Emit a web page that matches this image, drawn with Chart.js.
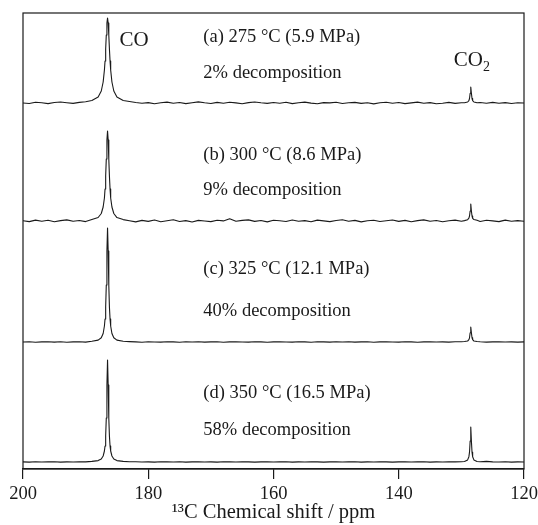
<!DOCTYPE html>
<html>
<head>
<meta charset="utf-8">
<script src="https://cdn.jsdelivr.net/npm/chart.js@4"></script>
<style>
    html, body { margin: 0; padding: 0; background: #fff; }
    canvas { display: block; }
</style>
</head>
<body>
<canvas id="nmr-chart" width="538" height="525"></canvas>
<script>
// ── Data ─────────────────────────────────────────────────

// chemical shift grid, ppm
const shiftPpm = [
    200, 199, 198, 197, 196, 195, 194, 193, 192, 191, 190, 189, 188,
    187.5, 187.2, 187.0, 186.9, 186.8, 186.7, 186.6, 186.5, 186.4, 186.3, 186.2, 186.1, 186.0, 185.8, 185.5, 185.0,
    184, 183, 182, 181, 180, 179, 178, 177, 176, 175, 174, 173, 172, 171, 170, 169, 168, 167, 166, 165,
    164, 163, 162, 161, 160, 159, 158, 157, 156, 155, 154, 153, 152, 151, 150, 149, 148, 147, 146, 145,
    144, 143, 142, 141, 140, 139, 138, 137, 136, 135, 134, 133, 132, 131, 130,
    129.5, 129.0, 128.8, 128.7, 128.6, 128.5, 128.4, 128.3, 128.2, 128.0, 127.5,
    127, 126, 125, 124, 123, 122, 121, 120
];

// (a) 275 °C
const intensityA = [
    0, -0.5, 0.8, 0.2, -0.6, 0.5, 1.0, 0.3, -0.4, 0.6, 1.2, 2.5, 6,
    12, 21, 33, 42, 54, 68, 80, 85, 80, 68, 54, 42, 33, 21, 12, 6,
    2.5, 1.5, 0.5, -0.3, 0.4, -0.8, 0.2, 0.9, -0.2, 0.5, -0.6, 0.3, 1.1, 0.2, -0.5, 0.6, -0.3, 0.8, 0.1, -0.7,
    0.4, 1.0, 0.2, -0.4, 0.5, -0.2, 0.7, -0.6, 0.3, 0.9, -0.1, -0.8, 0.4, 0.1, 0.8, -0.5, 0.2, 0.6, -0.4, 0.3,
    -0.9, 0.2, 0.7, -0.3, 0.5, -0.6, 0.1, 0.9, -0.2, 0.4, -0.7, -0.2, 0.6, -0.4, 0.3,
    0.2, 1, 2.4, 4.5, 9.8, 16, 9.8, 4.5, 2.4, 1, 0.2,
    0.5, -0.3, 0.6, -0.2, 0.4, -0.5, 0.2, 0
];

// (b) 300 °C
const intensityB = [
    0.3, -0.6, 0.9, -0.2, 0.7, -0.8, 0.4, 1.1, -0.3, 0.5, -0.6, 1.5, 3.5,
    7.5, 14, 23, 32, 45, 62, 81, 90, 81, 62, 45, 32, 23, 14, 7.5, 3.4,
    1.4, 0.2, -0.9, 0.6, -0.4, 1.0, -0.7, 0.3, 1.2, -0.5, 0.4, -1.0, 0.6, 0.0, -0.6, 0.8, 0.1, 2.2, -0.3, 0.6,
    1.1, -0.4, 0.5, -0.9, 0.7, 0.2, -0.5, 1.0, -0.2, 0.4, -0.8, 0.9, 0.1, -0.6, 0.5, 1.2, -0.3, 0.6, -0.9, 0.3,
    0.8, -0.5, 0.2, 1.0, -0.4, 0.6, -0.7, 0.4, 1.1, -0.2, 0.5, -0.8, 0.3, 0.9, -0.3,
    0.4, 1.3, 2.8, 5, 10, 17, 10, 5, 2.6, 1.5, 0.8,
    -0.5, 0.7, 0.1, -0.6, 0.9, -0.2, 0.4, -0.3
];

// (c) 325 °C
const intensityC = [
    0, 0.2, -0.2, 0.1, 0.3, -0.1, 0.2, -0.3, 0.1, 0.2, -0.1, 0.7, 1.9,
    4.3, 8.5, 16, 23, 35, 57, 91, 114, 91, 57, 35, 23, 16, 8.5, 4.3, 1.9,
    0.7, 0.4, 0.1, -0.2, 0.2, 0, -0.1, 0.3, 0.1, -0.2, 0.2, 0, 0.3, -0.1, 0.1, 0.2, -0.2, 0.1, 0.3, 0,
    -0.1, 0.2, 0.1, -0.2, 0.1, 0.3, 0, -0.1, 0.2, 0.1, -0.2, 0.2, 0.1, -0.1, 0.2, 0, 0.3, -0.1, 0.1, 0.2,
    -0.2, 0.1, 0.2, 0, -0.1, 0.2, 0.1, -0.2, 0.1, 0.3, 0, 0.1, -0.1, 0.2, 0.3,
    0.5, 1, 2.3, 4.2, 9.2, 15, 9.2, 4.2, 2.3, 1, 0.5,
    0.2, -0.1, 0.1, 0.2, 0, 0.1, -0.1, 0.1
];

// (d) 350 °C
const intensityD = [
    0.1, -0.1, 0.2, 0, 0.1, 0.2, -0.1, 0.1, 0, 0.2, 0.1, 0.6, 1.4,
    3, 6, 11, 16, 26, 44, 77, 102, 77, 44, 26, 16, 11, 6, 3, 1.4,
    0.6, 0.3, 0.2, 0, 0.1, -0.1, 0.2, 0.1, 0, 0.2, -0.1, 0.1, 0.2, 0, 0.1, -0.1, 0.2, 0.1, 0, 0.2,
    0.1, -0.1, 0.1, 0.2, 0, 0.1, 0.2, -0.1, 0.1, 0, 0.2, 0.1, -0.1, 0.1, 0.2, 0, 0.1, 0.2, -0.1, 0.1,
    0, 0.2, 0.1, -0.1, 0.1, 0.2, 0, 0.1, 0.2, -0.1, 0.1, 0, 0.2, 0.1, 0.2,
    0.5, 2.1, 5.3, 9.8, 21, 35, 21, 9.8, 5.3, 2.1, 0.5,
    0.2, 0.6, 0.1, 0, 0.2, -0.1, 0.1, 0
];

const xTicks = [200, 180, 160, 140, 120];

const conditionLabels = ['(a) 275 °C (5.9 MPa)', '(b) 300 °C (8.6 MPa)', '(c) 325 °C (12.1 MPa)', '(d) 350 °C (16.5 MPa)'];
const decompLabels = ['2% decomposition', '9% decomposition', '40% decomposition', '58% decomposition'];

// ── Layout ──────────────────────────

// vertical stacking of the traces (y units = px above the axis)
const stackOffsets = [366, 248, 127, 7];
const conditionY = [432, 314, 200, 76];
const decompY = [396, 279, 158, 39];
const labelPpm = 171.2;

const SERIF = '"Liberation Serif", "DejaVu Serif", serif';
const INK = '#1a1a1a';

function toPoints(values, offset) {
    return shiftPpm.map((x, i) => ({ x: x, y: values[i] + offset }));
}

const spectra = [intensityA, intensityB, intensityC, intensityD];

// frame + text annotations
const annotate = {
    id: 'annotate',
    afterDraw(chart) {
        const { ctx, chartArea: a, scales } = chart;
        const px = v => scales.x.getPixelForValue(v);
        const py = v => scales.y.getPixelForValue(v);

        ctx.save();
        ctx.strokeStyle = INK;
        ctx.lineWidth = 1.2;
        ctx.strokeRect(a.left, a.top, a.right - a.left, a.bottom - a.top);

        ctx.fillStyle = INK;
        ctx.textBaseline = 'middle';
        ctx.textAlign = 'left';

        ctx.font = '18.5px ' + SERIF;
        conditionLabels.forEach((t, i) => ctx.fillText(t, px(labelPpm), py(conditionY[i])));
        decompLabels.forEach((t, i) => ctx.fillText(t, px(labelPpm), py(decompY[i])));

        // peak names
        ctx.font = '21px ' + SERIF;
        ctx.fillText('CO', px(184.6), py(429));
        const x2 = px(131.2);
        ctx.fillText('CO', x2, py(409));
        const w = ctx.measureText('CO').width;
        ctx.font = '14px ' + SERIF;
        ctx.fillText('2', x2 + w, py(409) + 7);
        ctx.restore();
    }
};

new Chart(document.getElementById('nmr-chart').getContext('2d'), {
    type: 'line',
    data: {
        datasets: spectra.map((vals, i) => ({
            data: toPoints(vals, stackOffsets[i]),
            borderColor: INK,
            borderWidth: 1.1,
            borderJoinStyle: 'round',
            borderCapStyle: 'round',
            pointRadius: 0,
            tension: 0,
            fill: false
        }))
    },
    options: {
        responsive: false,
        animation: false,
        layout: { padding: { left: 23, right: 14, top: 13, bottom: 0 } },
        plugins: { legend: { display: false }, tooltip: { enabled: false } },
        scales: {
            x: {
                type: 'linear',
                reverse: true,
                min: 120,
                max: 200,
                afterBuildTicks: axis => { axis.ticks = xTicks.map(v => ({ value: v })); },
                afterFit: axis => {
                    axis.height = 56;
                    axis.paddingLeft = 0;
                    axis.paddingRight = 0;
                },
                ticks: {
                    color: INK,
                    padding: 4,
                    maxRotation: 0,
                    font: { family: SERIF, size: 18.5 }
                },
                grid: { drawOnChartArea: false, tickLength: 10, color: INK, lineWidth: 1.2 },
                border: { color: INK, width: 1.2 },
                title: {
                    display: true,
                    text: '¹³C Chemical shift / ppm',
                    color: INK,
                    padding: { top: 0, bottom: 0 },
                    font: { family: SERIF, size: 20.5 }
                }
            },
            y: { display: false, min: 0, max: 456 }
        }
    },
    plugins: [annotate]
});
</script>
</body>
</html>
